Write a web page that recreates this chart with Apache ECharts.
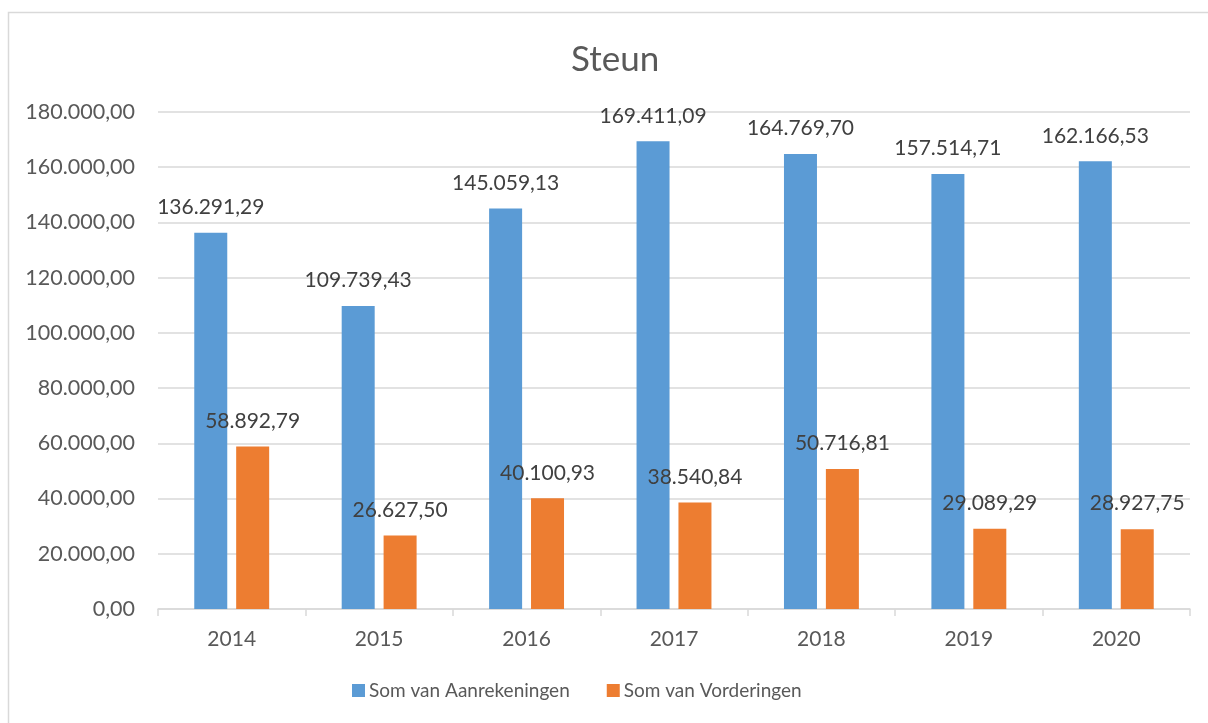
<!DOCTYPE html>
<html><head><meta charset="utf-8">
<script src="https://cdn.jsdelivr.net/npm/echarts@6/dist/echarts.min.js"></script>
<style>html,body{margin:0;padding:0;background:#fff}#c{width:1208px;height:723px}</style>
</head><body><div id="c"></div>
<script>
const categories = ['2014','2015','2016','2017','2018','2019','2020'];
const aanrekeningen = [136291.29, 109739.43, 145059.13, 169411.09, 164769.70, 157514.71, 162166.53];
const vorderingen = [58892.79, 26627.50, 40100.93, 38540.84, 50716.81, 29089.29, 28927.75];
const seriesNames = ['Som van Aanrekeningen', 'Som van Vorderingen'];

function nl(v){
  const neg = v < 0; v = Math.abs(v);
  const s = v.toFixed(2);
  let [i, d] = s.split('.');
  i = i.replace(/\B(?=(\d{3})+(?!\d))/g, '.');
  return (neg?'-':'') + i + ',' + d;
}
const FONT = 'Lato';
const chart = echarts.init(document.getElementById('c'));
const labelCfg = {show:true, position:'top', distance:15, color:'#404040', fontSize:21, fontFamily:FONT,
  formatter: p => nl(p.value)};
chart.setOption({
  animation:false,
  textStyle:{fontFamily:FONT},
  graphic:[{type:'rect', shape:{x:8.5, y:12.5, width:1400, height:900}, style:{fill:null, stroke:'#D9D9D9', lineWidth:1.5}, silent:true}],
  title:{text:'Steun', left:566, top:37, textStyle:{fontSize:35, fontWeight:'normal', color:'#595959', fontFamily:FONT}},
  legend:{bottom:18, left:347, itemWidth:13, itemHeight:13, itemGap:37, icon:'rect',
    textStyle:{fontSize:19, color:'#595959', fontFamily:FONT, padding:[0,0,0,-1]}, data:seriesNames},
  grid:{left:158, right:18, top:112, bottom:114, containLabel:false},
  xAxis:{type:'category', data:categories,
    axisLine:{lineStyle:{color:'#D9D9D9', width:1.5}},
    axisTick:{show:true, length:7, lineStyle:{color:'#D9D9D9', width:1.5}},
    axisLabel:{color:'#595959', fontSize:21, margin:20, fontFamily:FONT}},
  yAxis:{type:'value', min:0, max:180000, interval:20000,
    axisLine:{show:false}, axisTick:{show:false},
    splitLine:{lineStyle:{color:'#D9D9D9', width:1.5}},
    axisLabel:{color:'#595959', fontSize:21.5, margin:23, fontFamily:FONT, formatter: v => nl(v)}},
  series:[
    {name:seriesNames[0], type:'bar', data:aanrekeningen, barWidth:33, barGap:'27%', itemStyle:{color:'#5B9BD5'}, label:labelCfg},
    {name:seriesNames[1], type:'bar', data:vorderingen, barWidth:33, barGap:'27%', itemStyle:{color:'#ED7D31'}, label:labelCfg}
  ]
});
</script></body></html>
